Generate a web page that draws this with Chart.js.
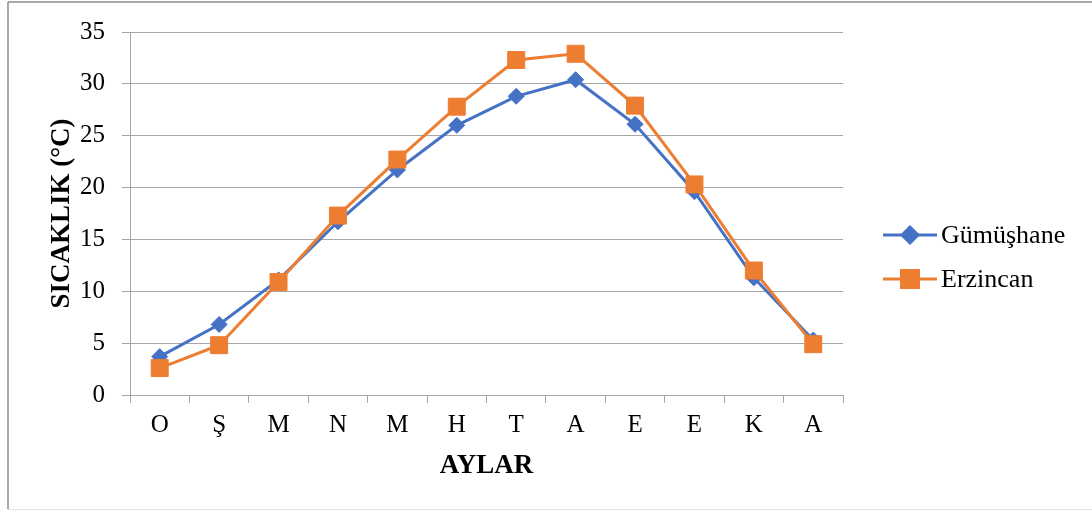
<!DOCTYPE html>
<html>
<head>
<meta charset="utf-8">
<script src="https://cdn.jsdelivr.net/npm/chart.js@4/dist/chart.umd.min.js"></script>
<style>
  html, body { margin: 0; padding: 0; background: #ffffff; }
  #wrap { position: relative; width: 1092px; height: 511px; }
</style>
</head>
<body>
<div id="wrap"><canvas id="c" width="1092" height="511"></canvas></div>
<script>
const months = ['O', 'Ş', 'M', 'N', 'M', 'H', 'T', 'A', 'E', 'E', 'K', 'A'];
const gumushane = [3.7, 6.8, 11.1, 16.7, 21.7, 26.0, 28.8, 30.4, 26.1, 19.6, 11.3, 5.3];
const erzincan = [2.6, 4.8, 10.9, 17.3, 22.7, 27.8, 32.3, 32.9, 27.9, 20.3, 12.0, 4.9];
const yTicks = { min: 0, max: 35, step: 5 };
const seriesNames = ['Gümüşhane', 'Erzincan'];

const BLUE = '#4472c4';
const ORANGE = '#ed7d31';
const GRID = '#a6a6a6';
const SERIF = '"Liberation Serif", "Times New Roman", serif';

const framePlugin = {
  id: 'frame',
  beforeDraw(chart) {
    const ctx = chart.ctx;
    ctx.save();
    ctx.fillStyle = '#ffffff';
    ctx.fillRect(0, 0, chart.width, chart.height);
    ctx.strokeStyle = '#8c8c8c';
    ctx.lineWidth = 1.5;
    ctx.beginPath();
    ctx.moveTo(8, 2); ctx.lineTo(chart.width, 2);
    ctx.moveTo(8, 2); ctx.lineTo(8, 509);
    ctx.stroke();
    ctx.strokeStyle = '#e3e3e3';
    ctx.lineWidth = 1;
    ctx.beginPath();
    ctx.moveTo(8, 509.5); ctx.lineTo(chart.width, 509.5);
    ctx.stroke();
    ctx.restore();
  }
};

const legendPlugin = {
  id: 'customLegend',
  afterDraw(chart) {
    const ctx = chart.ctx;
    const ys = [235, 279];
    const order = [1, 0];
    ctx.save();
    order.forEach((dsIndex, i) => {
      const ds = chart.data.datasets[dsIndex];
      const y = ys[i];
      ctx.strokeStyle = ds.borderColor;
      ctx.lineWidth = ds.borderWidth;
      ctx.beginPath();
      ctx.moveTo(883, y);
      ctx.lineTo(937, y);
      ctx.stroke();
      Chart.helpers.drawPoint(ctx, {
        pointStyle: ds.pointStyle,
        radius: ds.pointRadius,
        borderWidth: 1
      }, 910, y);
      ctx.fillStyle = ds.backgroundColor;
      ctx.strokeStyle = ds.borderColor;
      ctx.fill();
      ctx.fillStyle = '#000000';
      ctx.font = '26px ' + SERIF;
      ctx.textBaseline = 'middle';
      ctx.textAlign = 'left';
      ctx.fillText(ds.label, 941, y + 1);
    });
    ctx.restore();
  }
};

new Chart(document.getElementById('c'), {
  type: 'line',
  data: {
    labels: months,
    datasets: [
      {
        label: seriesNames[1],
        data: erzincan,
        borderColor: ORANGE,
        backgroundColor: ORANGE,
        borderWidth: 3,
        pointStyle: 'rect',
        pointRadius: 12,
        pointHoverRadius: 12,
        pointBorderWidth: 1,
        pointBackgroundColor: ORANGE,
        pointBorderColor: ORANGE,
        tension: 0,
        order: 0
      },
      {
        label: seriesNames[0],
        data: gumushane,
        borderColor: BLUE,
        backgroundColor: BLUE,
        borderWidth: 3,
        pointStyle: 'rectRot',
        pointRadius: 8,
        pointHoverRadius: 8,
        pointBorderWidth: 1,
        pointBackgroundColor: BLUE,
        pointBorderColor: BLUE,
        tension: 0,
        order: 1
      }
    ]
  },
  options: {
    responsive: false,
    animation: false,
    devicePixelRatio: 1,
    layout: { padding: { left: 0, right: 249, top: 32, bottom: 0 } },
    plugins: {
      legend: { display: false },
      tooltip: { enabled: false }
    },
    scales: {
      x: {
        offset: true,
        grid: {
          display: true,
          drawOnChartArea: false,
          drawTicks: true,
          tickLength: 8,
          color: GRID,
          offset: true
        },
        border: { display: true, color: GRID, width: 1 },
        ticks: {
          color: '#000000',
          font: { family: SERIF, size: 25 },
          padding: 7,
          maxRotation: 0
        },
        title: {
          display: true,
          text: 'AYLAR',
          color: '#000000',
          font: { family: SERIF, size: 27, weight: 'bold' },
          padding: { top: 0, bottom: 29 }
        },
        afterFit(scale) { scale.height = 116; }
      },
      y: {
        min: yTicks.min,
        max: yTicks.max,
        ticks: {
          stepSize: yTicks.step,
          color: '#000000',
          font: { family: SERIF, size: 25 },
          padding: 17
        },
        grid: {
          color: GRID,
          drawTicks: true,
          tickLength: 8
        },
        border: { display: true, color: GRID, width: 1 },
        title: {
          display: true,
          text: 'SICAKLIK (°C)',
          color: '#000000',
          font: { family: SERIF, size: 27, weight: 'bold' },
          padding: { top: 46, bottom: 0 }
        },
        afterFit(scale) { scale.width = 130; }
      }
    }
  },
  plugins: [framePlugin, legendPlugin]
});
</script>
</body>
</html>
